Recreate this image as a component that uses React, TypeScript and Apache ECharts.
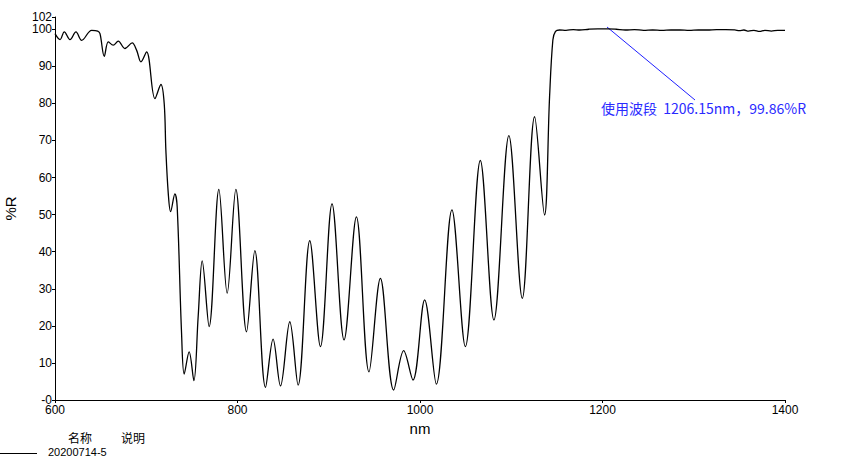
import React, { useEffect, useRef } from "react";
import * as echarts from "echarts";

const wavelengths: number[] = [
  600, 605.5, 610.2, 616.4, 623.0, 629.2, 640.2, 646.8, 649.3, 654.0, 658.4, 663.8, 669.3, 676.6,
  684.6, 689.5, 694.2, 700.4, 709.5, 716.1, 719.7, 721.5, 724.1, 726.7, 731.4, 733.9, 738.7, 741.6,
  747.0, 752.2, 756.9, 761.3, 768.9, 779.6, 788.7, 798.2, 809.9, 819.0, 830.7, 839.0, 847.1, 857.3,
  866.4, 879.2, 890.9, 903.6, 916.8, 930.3, 944.1, 956.6, 971.2, 982.1, 992.3, 1005.1, 1017.9,
  1035.0, 1049.7, 1066.1, 1081.0, 1097.4, 1112.1, 1125.6, 1136.5, 1142.0, 1145.6, 1148.5, 1152.9,
  1160, 1168, 1175, 1185, 1195, 1206, 1215, 1225, 1235, 1245, 1255, 1265, 1275, 1285, 1295, 1305,
  1315, 1325, 1335, 1345, 1350, 1355, 1360, 1366, 1372, 1378, 1385, 1392, 1400,
];

const reflectance: number[] = [
  98.8, 97.2, 99.3, 97.2, 99.3, 97.0, 99.7, 99.5, 98.8, 92.7, 96.6, 95.7, 96.8, 94.8,
  96.3, 94.3, 91.2, 93.9, 81.3, 85.1, 79.9, 67.4, 55.8, 50.8, 55.6, 52.1, 18.0, 7.0,
  13.0, 5.2, 22.5, 37.5, 19.8, 56.8, 28.8, 56.8, 18.4, 40.3, 3.4, 16.4, 3.8, 21.1,
  4.0, 43.0, 14.4, 52.9, 16.2, 49.4, 7.6, 32.8, 2.7, 13.3, 5.4, 27.0, 4.3,
  51.3, 14.4, 64.6, 21.6, 71.3, 27.4, 76.4, 49.9, 81.8, 97.1, 99.4, 99.8,
  99.7, 99.9, 99.8, 100.0, 100.1, 100.1, 100.0, 99.8, 99.9, 99.7, 99.8, 99.7, 99.8, 99.8, 99.7, 99.8,
  99.8, 99.9, 99.9, 99.8, 99.6, 99.8, 99.5, 99.7, 99.4, 99.7, 99.5, 99.7, 99.7,
];

const xTicks = { min: 600, max: 1400, interval: 200 };
const yTicks = { min: 0, max: 103.3, interval: 10 };
const sampleName = "20200714-5";
const annotationText = "使用波段  1206.15nm，99.86%R";

export default function App() {
  const ref = useRef<HTMLDivElement>(null);
  useEffect(() => {
    if (!ref.current) return;
    const chart = echarts.init(ref.current, null, { renderer: "svg" });
    const latin = "Liberation Sans, Arial, sans-serif";
    const cjk = "Noto Sans CJK SC, sans-serif";
    chart.setOption({
      animation: false,
      backgroundColor: "#ffffff",
      grid: {
        left: 55,
        right: 80,
        top: 17,
        bottom: 66,
        containLabel: false,
        outerBoundsMode: "none",
      },
      xAxis: {
        type: "value",
        min: xTicks.min,
        max: xTicks.max,
        interval: xTicks.interval,
        name: "nm",
        nameLocation: "middle",
        nameGap: 18,
        nameTextStyle: { color: "#000", fontSize: 15, fontFamily: latin },
        axisLine: { lineStyle: { color: "#000", width: 1 } },
        axisTick: { show: true, length: 3, lineStyle: { color: "#000" } },
        axisLabel: {
          color: "#000",
          fontSize: 12,
          fontFamily: latin,
          margin: 4,
          formatter: (v: number) => String(v),
        },
        splitLine: { show: false },
      },
      yAxis: {
        type: "value",
        min: yTicks.min,
        max: yTicks.max,
        interval: yTicks.interval,
        name: "%R",
        nameLocation: "middle",
        nameGap: 37,
        nameRotate: 90,
        nameTextStyle: { color: "#000", fontSize: 15, fontFamily: latin },
        axisLine: { show: true, lineStyle: { color: "#000", width: 1 } },
        axisTick: { show: true, length: 3, lineStyle: { color: "#000" } },
        axisLabel: {
          color: "#000",
          fontSize: 12,
          fontFamily: latin,
          margin: 3,
          showMaxLabel: true,
          formatter: (v: number) => (v === 0 ? "-0" : v > 101 ? "102" : String(v)),
        },
        splitLine: { show: false },
      },
      series: [
        {
          type: "line",
          data: wavelengths.map((w, i) => [w, reflectance[i]]),
          showSymbol: false,
          smooth: 0.35,
          lineStyle: { color: "#000", width: 1.3 },
          silent: true,
        },
      ],
      graphic: [
        {
          type: "line",
          shape: { x1: 607, y1: 27, x2: 695, y2: 100 },
          style: { stroke: "#2020ff", lineWidth: 1 },
        },
        {
          type: "text",
          x: 601,
          y: 108,
          style: {
            text: annotationText,
            fill: "#2a2aff",
            font: `14px ${cjk}`,
            verticalAlign: "middle",
          },
        },
        {
          type: "text",
          x: 68,
          y: 437,
          style: { text: "名称", fill: "#000", font: `12px ${cjk}`, verticalAlign: "middle" },
        },
        {
          type: "text",
          x: 121,
          y: 437,
          style: { text: "说明", fill: "#000", font: `12px ${cjk}`, verticalAlign: "middle" },
        },
        {
          type: "line",
          shape: { x1: 0, y1: 453.5, x2: 37, y2: 453.5 },
          style: { stroke: "#000", lineWidth: 1 },
        },
        {
          type: "text",
          x: 48,
          y: 452,
          style: { text: sampleName, fill: "#000", font: `11px ${latin}`, verticalAlign: "middle" },
        },
      ],
    });
    return () => chart.dispose();
  }, []);
  return (
    <div
      ref={ref}
      style={{ position: "absolute", left: 0, top: 0, width: 865, height: 466 }}
    />
  );
}
